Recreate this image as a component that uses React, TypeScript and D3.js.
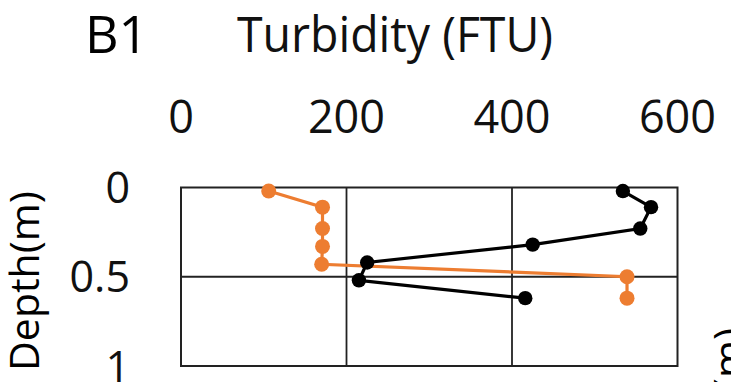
import React from "react";
import * as d3 from "d3";

const xTicks = [0, 200, 400, 600];
const yTicks = [0, 0.5, 1];
const yTickLabels = ["0", "0.5", "1"];

const orangeDepth = [0.02, 0.11, 0.23, 0.33, 0.43, 0.5, 0.62];
const orangeValue = [106, 171, 171, 171, 170, 539, 539];

const blackDepth = [0.02, 0.11, 0.23, 0.32, 0.42, 0.52, 0.62];
const blackValue = [534, 568, 555, 425, 225, 215, 416];

const W = 731;
const H = 382;
const FONT = "'Open Sans', 'Noto Sans', sans-serif";

export default function App() {
  const x = d3.scaleLinear().domain([0, 600]).range([181, 677.5]);
  const y = d3.scaleLinear().domain([0, 1]).range([187.5, 366]);

  const line = d3
    .line<[number, number]>()
    .x((d) => x(d[0]))
    .y((d) => y(d[1]));

  const orange: [number, number][] = orangeValue.map((v, i) => [v, orangeDepth[i]]);
  const black: [number, number][] = blackValue.map((v, i) => [v, blackDepth[i]]);

  return (
    <svg
      width={W}
      height={H}
      style={{ position: "absolute", left: 0, top: 0, background: "#fff" }}
    >
      <rect x={0} y={0} width={W} height={H} fill="#fff" />
      {/* Panel label */}
      <text x={85} y={52.5} fontFamily={FONT} fontSize={52} fill="#000">
        B1
      </text>
      {/* Axis title */}
      <text
        x={237}
        y={51.5}
        fontFamily={FONT}
        fontSize={49}
        fill="#111"
        textLength={316}
        lengthAdjust="spacingAndGlyphs"
      >
        Turbidity (FTU)
      </text>
      {/* X tick labels (top) */}
      {xTicks.map((t) => (
        <text
          key={"xt" + t}
          x={x(t)}
          y={133.3}
          textAnchor="middle"
          fontFamily={FONT}
          fontSize={45}
          fill="#111"
        >
          {t}
        </text>
      ))}
      {/* Y tick labels */}
      {yTicks.map((t, i) => (
        <text
          key={"yt" + t}
          x={130}
          y={y(t) + 15.5}
          textAnchor="end"
          fontFamily={FONT}
          fontSize={43}
          fill="#111"
        >
          {yTickLabels[i]}
        </text>
      ))}
      {/* Y axis title */}
      <text
        transform={`translate(39,281) rotate(-90)`}
        textAnchor="middle"
        fontFamily={FONT}
        fontSize={41}
        fill="#000"
      >
        Depth(m)
      </text>
      {/* Partial next-panel title */}
      <text
        transform={`translate(743,328) rotate(-90)`}
        textAnchor="end"
        fontFamily={FONT}
        fontSize={41}
        fill="#000"
      >
        Depth(m)
      </text>
      {/* Gridlines */}
      {xTicks.slice(1, -1).map((t) => (
        <line
          key={"gx" + t}
          x1={x(t)}
          x2={x(t)}
          y1={y(0)}
          y2={y(1)}
          stroke="#222"
          strokeWidth={1.8}
        />
      ))}
      {yTicks.slice(1, -1).map((t) => (
        <line
          key={"gy" + t}
          x1={x(0)}
          x2={x(600)}
          y1={y(t)}
          y2={y(t)}
          stroke="#222"
          strokeWidth={1.8}
        />
      ))}
      <rect
        x={x(0)}
        y={y(0)}
        width={x(600) - x(0)}
        height={y(1) - y(0)}
        fill="none"
        stroke="#222"
        strokeWidth={2}
      />
      {/* Orange series */}
      <path d={line(orange) || ""} fill="none" stroke="#ED7D31" strokeWidth={3.2} />
      {orange.map((d, i) => (
        <circle key={"o" + i} cx={x(d[0])} cy={y(d[1])} r={7.5} fill="#ED7D31" />
      ))}
      {/* Black series */}
      <path d={line(black) || ""} fill="none" stroke="#000" strokeWidth={3.2} />
      {black.map((d, i) => (
        <circle key={"b" + i} cx={x(d[0])} cy={y(d[1])} r={7.2} fill="#000" />
      ))}
    </svg>
  );
}
